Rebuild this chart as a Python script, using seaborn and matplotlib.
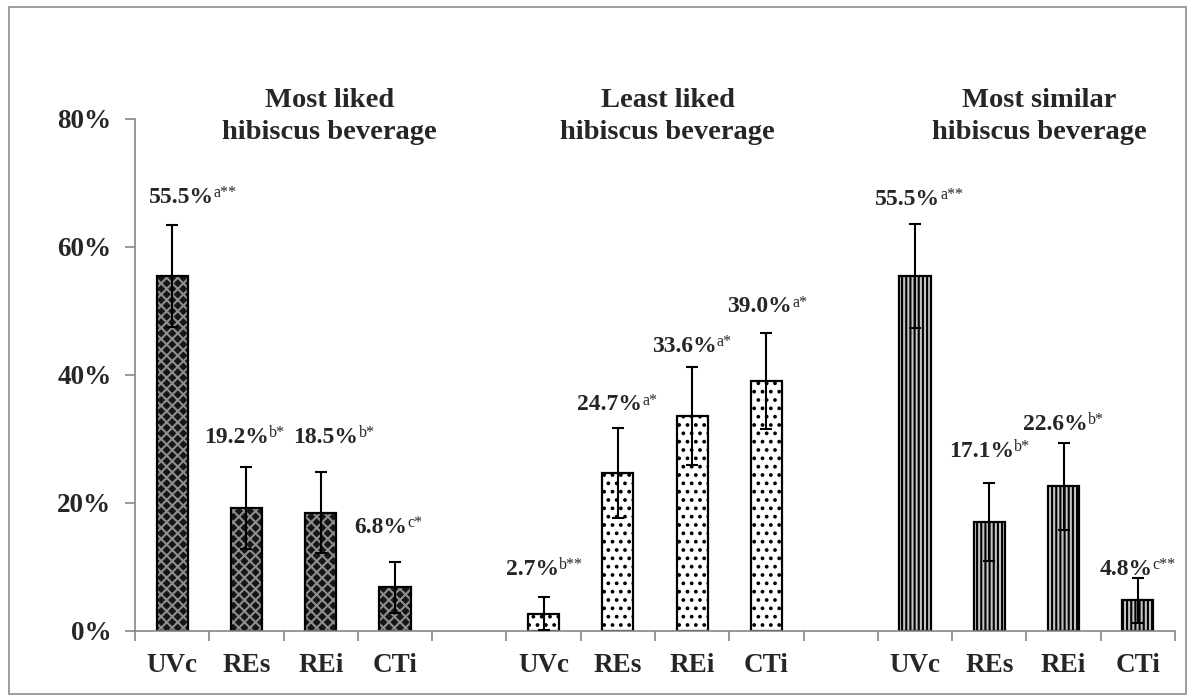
import matplotlib
matplotlib.use("Agg")
import matplotlib.pyplot as plt
from matplotlib.patches import Rectangle
from matplotlib.ticker import PercentFormatter
import numpy as np
import pandas as pd
import seaborn as sns

# ---- data ----
groups = ["Most liked\nhibiscus beverage",
          "Least liked\nhibiscus beverage",
          "Most similar\nhibiscus beverage"]
samples = ["UVc", "REs", "REi", "CTi"]

most_liked = [55.5, 19.2, 18.5, 6.8]
least_liked = [2.7, 24.7, 33.6, 39.0]
most_similar = [55.5, 17.1, 22.6, 4.8]

err_most_liked = [8.0, 6.4, 6.3, 4.0]
err_least_liked = [2.6, 7.0, 7.6, 7.5]
err_most_similar = [8.1, 6.1, 6.8, 3.5]

sig_most_liked = ["a**", "b*", "b*", "c*"]
sig_least_liked = ["b**", "a*", "a*", "a*"]
sig_most_similar = ["a**", "b*", "b*", "c**"]

# ---- layout (label baselines in %, x shifts in px) ----
label_y = [66.9, 29.4, 29.4, 15.3,
           8.75, 34.5, 43.6, 49.8,
           66.6, 27.2, 31.4, 8.75]
label_dx = [9, -10, 5, -14,
            -11, -8, -8, -7,
            -7, -8, -8, -12]
title_x = [2.12, 6.67, 11.67]
title_y = 76.8   # baseline of the second title line

rows = []
for gi, (g, vals, errs, sigs) in enumerate(zip(
        groups,
        [most_liked, least_liked, most_similar],
        [err_most_liked, err_least_liked, err_most_similar],
        [sig_most_liked, sig_least_liked, sig_most_similar])):
    for si, s in enumerate(samples):
        rows.append({"group": g, "sample": s, "pos": gi * 5 + si,
                     "value": vals[si], "err": errs[si], "sig": sigs[si]})
df = pd.DataFrame(rows)

sns.set_style("ticks")
plt.rcParams["font.family"] = ["Liberation Serif", "DejaVu Serif"]
plt.rcParams["hatch.linewidth"] = 1.5

fig = plt.figure(figsize=(11.87, 6.95), dpi=100)
ax = fig.add_axes([135 / 1187, 1 - 631 / 695, 1040 / 1187, 512 / 695])

styles = [
    ("#161616", "xxx", "#8e8e8e"),    # dark lattice
    ("#ffffff", "..", "#000000"),     # dotted
    ("#c4c4c4", "||||", "#000000"),   # vertical stripes
]
for g, (face, hatch, hcol) in zip(groups, styles):
    n0 = len(ax.patches)
    sns.barplot(data=df[df["group"] == g], x="pos", y="value",
                native_scale=True, width=0.42, color=face, saturation=1,
                errorbar=None, ax=ax)
    for p in ax.patches[n0:]:
        p.set_hatch(hatch)
        p.set_edgecolor(hcol)
        p.set_linewidth(0)

# black outlines
sns.barplot(data=df, x="pos", y="value", native_scale=True, width=0.42,
            fill=False, color="black", linewidth=1.6, errorbar=None, ax=ax)

ax.errorbar(df["pos"], df["value"], yerr=df["err"], fmt="none",
            ecolor="black", elinewidth=1.5, capsize=4.3, capthick=1.5, zorder=5)

# value labels with superscript letters
for i, r in df.iterrows():
    t = ax.annotate(f"{r['value']:.1f}%", xy=(r["pos"], label_y[i]),
                    xytext=(label_dx[i] * 0.72, 0), textcoords="offset points",
                    ha="center", va="baseline", fontsize=17, fontweight="bold")
    ax.annotate(r["sig"], xy=(1, 1), xycoords=t, xytext=(0.2, 1.2),
                textcoords="offset points", ha="left", va="top", fontsize=11.5)

for g, tx in zip(groups, title_x):
    ax.text(tx, title_y, g, ha="center", va="baseline", fontsize=20.5,
            fontweight="bold", linespacing=1.4, clip_on=False)

# axes styling
ax.set_xlim(-0.5, 13.5)
ax.set_ylim(0, 80)
ax.set_yticks([0, 20, 40, 60, 80])
ax.yaxis.set_major_formatter(PercentFormatter(decimals=0))
ax.set_xticks(np.arange(-0.5, 14, 1))
ax.set_xticklabels([])
ax.set_xticks(df["pos"], minor=True)
ax.set_xticklabels(df["sample"], minor=True)
ax.tick_params(axis="x", which="major", length=7, width=1.2, color="#868686")
ax.tick_params(axis="x", which="minor", length=0, pad=16, labelsize=19.5)
ax.tick_params(axis="y", length=7, width=1.2, color="#868686", pad=10,
               labelsize=19.5)
for lab in ax.get_xticklabels(minor=True) + ax.get_yticklabels():
    lab.set_fontweight("bold")
ax.set_xlabel("")
ax.set_ylabel("")
sns.despine(ax=ax)
for side in ["left", "bottom"]:
    ax.spines[side].set_color("#868686")
    ax.spines[side].set_linewidth(1.2)

fig.add_artist(Rectangle((9 / 1187, 0.002), 1 - 10 / 1187, 0.988,
                         transform=fig.transFigure, fill=False,
                         edgecolor="#8c8c8c", linewidth=1.2))

fig.savefig("out.png", dpi=100)
